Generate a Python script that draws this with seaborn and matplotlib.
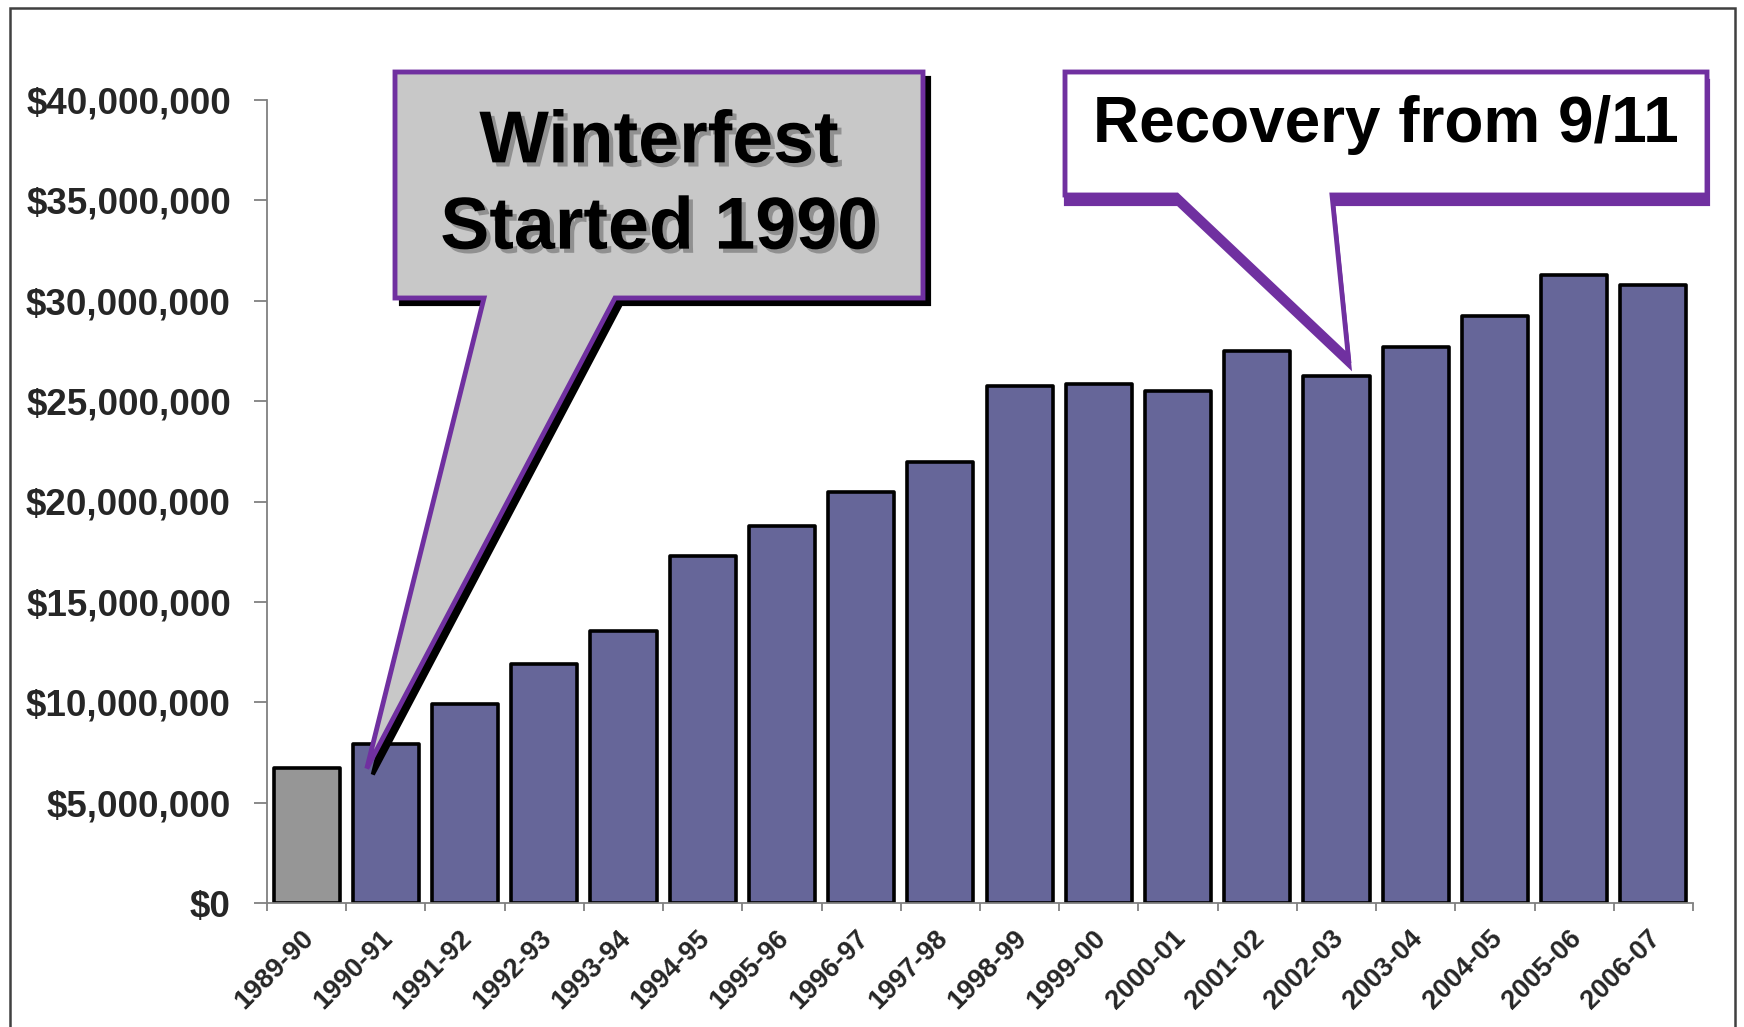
import numpy as np
import pandas as pd
import seaborn as sns
import matplotlib.pyplot as plt
import matplotlib.patheffects as pe
import matplotlib.transforms as mtransforms
from matplotlib.patches import Polygon, Rectangle
from matplotlib.ticker import FuncFormatter, FixedLocator

# Data
seasons = ["1989-90", "1990-91", "1991-92", "1992-93", "1993-94", "1994-95",
           "1995-96", "1996-97", "1997-98", "1998-99", "1999-00", "2000-01",
           "2001-02", "2002-03", "2003-04", "2004-05", "2005-06", "2006-07"]
revenue = [6.7, 7.9, 9.9, 11.9, 13.55, 17.3, 18.8, 20.45, 21.95, 25.75,
           25.85, 25.5, 27.5, 26.25, 27.7, 29.25, 31.3, 30.8]  # millions of $
bar_colors = ["#969696"] + ["#666699"] * (len(seasons) - 1)

df = pd.DataFrame({"Season": seasons, "Revenue": np.array(revenue) * 1e6})

sns.set_theme(style="white")
plt.rcParams["font.family"] = ["Liberation Sans", "DejaVu Sans"]
plt.rcParams["font.weight"] = "bold"

W, H = 1744, 1027
fig = plt.figure(figsize=(W / 100, H / 100), dpi=100)
fig.patch.set_facecolor("white")
ax = fig.add_axes([267 / W, 1 - 903 / H, (1693 - 267) / W, (903 - 100) / H])

sns.barplot(data=df, x="Season", y="Revenue", hue="Season", palette=bar_colors,
            legend=False, width=0.835, edgecolor="black", linewidth=2.6, ax=ax,
            saturation=1)
for p in ax.patches:
    p.set_joinstyle("round")

ax.set_xlim(-0.5, len(seasons) - 0.5)
ax.set_ylim(0, 40e6)
ax.set_yticks(np.arange(0, 40e6 + 1, 5e6))
ax.yaxis.set_major_formatter(FuncFormatter(lambda v, p: f"${v:,.0f}"))
ax.set_xlabel("")
ax.set_ylabel("")

for s in ["top", "right"]:
    ax.spines[s].set_visible(False)
for s in ["left", "bottom"]:
    ax.spines[s].set_color("#808080")
    ax.spines[s].set_linewidth(1.3)

ax.tick_params(axis="y", which="major", direction="out", length=9.5, width=1.3,
               color="#808080", labelsize=26.5, pad=16.5, left=True)
for t in ax.get_yticklabels():
    t.set_fontweight("bold")

# category boundaries carry the tick marks, labels sit at the centres
ax.xaxis.set_minor_locator(FixedLocator(np.arange(-0.5, len(seasons), 1.0)))
ax.tick_params(axis="x", which="minor", direction="out", length=6, width=1.3,
               color="#808080", bottom=True)
ax.tick_params(axis="x", which="major", length=0, pad=16)
ax.set_xticks(range(len(seasons)))
ax.set_xticklabels(seasons, rotation=45, ha="right", rotation_mode="anchor",
                   fontsize=19.5, fontweight="bold")
shift = mtransforms.ScaledTranslation(-6 / 100, 0, fig.dpi_scale_trans)
for t in ax.get_xticklabels():
    t.set_transform(t.get_transform() + shift)


def fpx(x, y):
    """image pixel (y from top) -> figure fraction"""
    return (x / W, 1 - y / H)


def data_to_fpx(x, y):
    dx, dy = ax.transData.transform((x, y))
    return (dx, H - dy)


purple = "#7030a0"

# Callout 1: Winterfest Started 1990
tip1 = data_to_fpx(0.76, 6.7e6)
shape1 = [(395, 72), (923, 72), (923, 298), (615, 298), tip1, (484, 298), (395, 298)]
shadow1 = [(x + 6, y + 6) for x, y in shape1]
fig.add_artist(Polygon([fpx(*p) for p in shadow1], closed=True, transform=fig.transFigure,
                       facecolor="black", edgecolor="black", lw=3, zorder=5))
fig.add_artist(Polygon([fpx(*p) for p in shape1], closed=True, transform=fig.transFigure,
                       facecolor="#c8c8c8", edgecolor=purple, lw=3.5, zorder=6,
                       joinstyle="miter"))
fig.text(*fpx(659, 186), "Winterfest\nStarted 1990", ha="center", va="center",
         fontsize=53, fontweight="bold", color="black", linespacing=1.32, zorder=7,
         path_effects=[pe.withSimplePatchShadow(offset=(3, -3), shadow_rgbFace="#909090",
                                                alpha=1.0)])

# Callout 2: Recovery from 9/11
tip2 = data_to_fpx(13.15, 27.2e6)
shape2 = [(1065, 72), (1707, 72), (1707, 195), (1332, 195), tip2, (1177, 195), (1065, 195)]
shadow2 = [(x + 1, y + 9) for x, y in shape2]
fig.add_artist(Polygon([fpx(*p) for p in shadow2], closed=True, transform=fig.transFigure,
                       facecolor=purple, edgecolor=purple, lw=3, zorder=5))
fig.add_artist(Polygon([fpx(*p) for p in shape2], closed=True, transform=fig.transFigure,
                       facecolor="white", edgecolor=purple, lw=3.5, zorder=6,
                       joinstyle="miter"))
fig.text(*fpx(1386, 125), "Recovery from 9/11", ha="center", va="center",
         fontsize=46, fontweight="bold", color="black", zorder=7)

# outer frame
fig.add_artist(Rectangle(fpx(10, 1040), (1735 - 10) / W, (1040 - 8) / H,
                         transform=fig.transFigure, fill=False, edgecolor="#404040",
                         lw=1.8, zorder=10))

fig.savefig("out.png", dpi=100)
